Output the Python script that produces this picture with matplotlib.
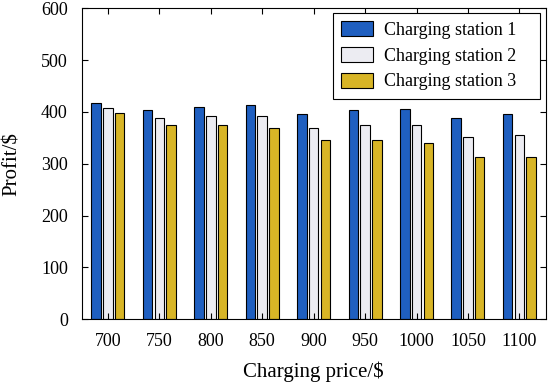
import matplotlib
matplotlib.use("Agg")
import matplotlib.pyplot as plt
import numpy as np

categories = ["700", "750", "800", "850", "900", "950", "1000", "1050", "1100"]
station1 = [418, 403, 410, 413, 397, 403, 405, 389, 397]
station2 = [407, 388, 392, 392, 370, 374, 374, 352, 356]
station3 = [398, 374, 374, 370, 345, 345, 340, 313, 313]
series_names = ["Charging station 1", "Charging station 2", "Charging station 3"]
colors = ["#1f5fc0", "#ececf2", "#d8b526"]

plt.rcParams['font.family'] = ['Liberation Serif', 'DejaVu Serif']
plt.rcParams['mathtext.fontset'] = 'stix'

fig = plt.figure(figsize=(5.5, 3.87), dpi=100)
ax = fig.add_axes([0.1485, 0.1749, 0.8436, 0.8037])

x = np.arange(len(categories))
w = 0.185
off = 0.228
for i, (vals, name, c) in enumerate(zip([station1, station2, station3], series_names, colors)):
    ax.bar(x + (i - 1) * off, vals, width=w, color=c, edgecolor='black', linewidth=0.8, label=name)

ax.set_xlim(-0.51, 8.51)
ax.set_ylim(0, 600)
ax.set_xticks(x)
ax.set_xticklabels(categories)
ax.set_yticks(np.arange(0, 601, 100))
ax.tick_params(direction='in', top=True, right=True, labelsize=13, length=4, width=0.8)
ax.tick_params(axis='x', pad=10)
ax.tick_params(axis='y', pad=10)
for s in ax.spines.values():
    s.set_linewidth(0.8)
ax.set_xlabel(r"Charging price/\$", fontsize=15, labelpad=8)
ax.set_ylabel(r"Profit/\$", fontsize=15, labelpad=14)
leg = ax.legend(loc='upper left', bbox_to_anchor=(0.5416, 0.0, 0.4461, 0.985), mode='expand',
                fontsize=13, frameon=True, fancybox=False,
                edgecolor='black', framealpha=1, handlelength=1.75, handleheight=0.9,
                borderaxespad=0.0, labelspacing=0.45, handletextpad=0.65, borderpad=0.45)
leg.get_frame().set_linewidth(0.8)

fig.savefig("out.png", dpi=100)
